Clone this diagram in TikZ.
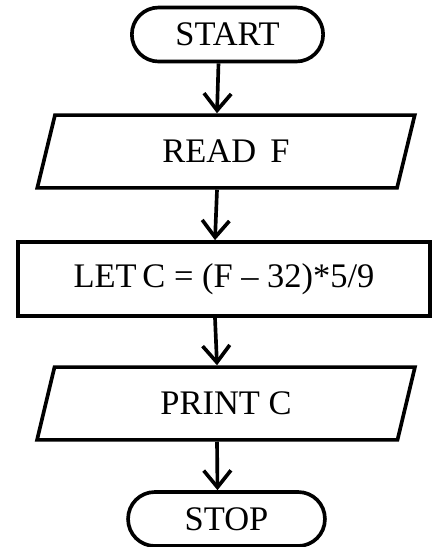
\documentclass[tikz,border=0pt]{standalone}
\usepackage{fontspec}
\setmainfont{Liberation Serif}
\usepackage{tikz}
\usetikzlibrary{positioning, calc}
\usetikzlibrary{arrows.meta}
\usetikzlibrary{shapes.geometric}

\begin{document}
\begin{tikzpicture}[x=0.025cm,y=-0.025cm,draw=black!100]
	\useasboundingbox (0,0) rectangle (432,547);
	\def \rowstart{34.5}
	\def \rowread{151.5}
	\def \rowlet{279}
	\def \rowprint{403.5}
	\def \rowstop{519}
	\def \arrowshift{-0.225cm}
	\tikzstyle{fc-font}=[font=\fontsize{24.5}{28}\selectfont]
	\tikzstyle{term-node}=[fc-font,draw,line width=2.6pt,rectangle,rounded corners=0.67cm,minimum height=1.35cm,text centered]
	\tikzstyle{io-node}=[fc-font,draw,line width=2.6pt,trapezium,trapezium left angle=77.6,trapezium right angle=102.4,trapezium stretches=true,minimum width=9.45cm,minimum height=1.82cm,text centered]
	\tikzstyle{proc-node}=[fc-font,draw,line width=2.6pt,rectangle,minimum width=10.3cm,minimum height=1.85cm,text centered]
	\tikzstyle{flow}=[line width=2.6pt,-{Straight Barb[length=0.42cm,width=0.68cm]}]

	% terminals
	\node[term-node,minimum width=4.78cm] (start) at (227.5,\rowstart) {START};
	\node[term-node,minimum width=4.92cm] (stop) at (226.5,\rowstop) {STOP};

	% input / output
	\node[io-node] (read) at (226,\rowread) {READ\, F};
	\node[io-node] (print) at (226,\rowprint) {PRINT C};

	% process
	\node[proc-node] (let) at (224,\rowlet) {LET\,C = (F -- 32)*5/9};

	\draw[flow] ([xshift=\arrowshift]start.south) -- ([xshift=\arrowshift]read.north);
	\draw[flow] ([xshift=\arrowshift]read.south) -- ([xshift=\arrowshift]let.north);
	\draw[flow] ([xshift=\arrowshift]let.south) -- ([xshift=\arrowshift]print.north);
	\draw[flow] ([xshift=\arrowshift]print.south) -- ([xshift=\arrowshift]stop.north);
\end{tikzpicture}
\end{document}
